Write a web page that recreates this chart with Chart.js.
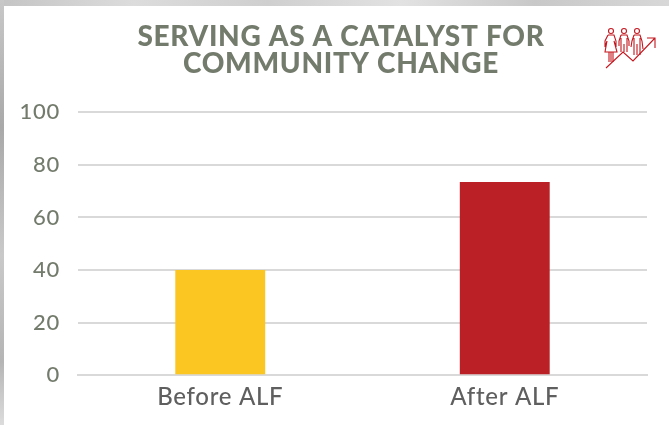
<!DOCTYPE html>
<html><head><meta charset="utf-8">
<style>
html,body{margin:0;padding:0;width:669px;height:425px;overflow:hidden;background:#fff}
#bgTop{position:absolute;left:0;top:0;width:669px;height:6px;background:linear-gradient(90deg,#c4c4c4,#dcdcdc 20%,#cfcfcf 40%,#e2e2e2 60%,#c8c8c8 80%,#d8d8d8)}
#bgLeft{position:absolute;left:0;top:0;width:4px;height:425px;background:linear-gradient(180deg,#c8c8c8,#a9a9a9 30%,#c9c9c9 60%,#b5b5b5 85%,#dcdcdc)}
#wrap{position:absolute;left:0;top:0;width:669px;height:425px}
#icon{position:absolute;left:600px;top:24px;width:60px;height:48px}
</style></head><body>
<div id="bgTop"></div><div id="bgLeft"></div>
<div id="wrap"><canvas id="c" width="669" height="425"></canvas></div>
<svg id="icon" viewBox="0 0 60 48" fill="none" stroke="#c4161f" stroke-width="1.100">
<circle cx="11" cy="7" r="2.500"/><circle cx="24" cy="7" r="2.500"/><circle cx="37" cy="7" r="2.500"/>
<path d="M8 11h6l2 6 0 6-2-6M8 11l-3 6 0 6 2-6M7 17l-2 11h12l-3-11M9 28v10M11 28v10M13 28v10"/>
<path d="M21 11h6l2 6v5M21 11l-2 6v5M21 14v14M27 14v14M24 20v8"/>
<path d="M34 11h6l2 6 1 8M34 11l-2 6-1 6M34 14v17M40 14v17M37 20v11"/>
<path d="M6 44L23 28l10 9 22-23M47 14h8v10"/>
</svg>
<script src="https://cdn.jsdelivr.net/npm/chart.js@4"></script>
<script>
const categories=["Before ALF","After ALF"];
const values=[40,73.5];
const barColors=["#fbc522","#bb2026"];
const yTicks=[0,20,40,60,80,100];
const titleLines=["SERVING AS A CATALYST FOR","COMMUNITY CHANGE"];
const helper={id:'helper',
 afterLayout(ch){ch.titleBlock.left+=17.5;ch.titleBlock.right+=17.5;},
 beforeDraw(ch){ch.ctx.letterSpacing='0.7px';}};
new Chart(document.getElementById('c'),{
 type:'bar',
 data:{labels:categories,datasets:[{data:values,backgroundColor:barColors,barPercentage:0.316,categoryPercentage:1}]},
 options:{
  responsive:false,animation:false,
  layout:{padding:{left:0,right:22,top:0,bottom:13}},
  plugins:{
   legend:{display:false},tooltip:{enabled:false},
   title:{display:true,text:titleLines,color:'#737b6c',align:'center',
    font:{family:'Lato',size:28,weight:'900',lineHeight:0.97},padding:{top:23,bottom:35}}
  },
  scales:{
   x:{grid:{display:false},border:{color:'#d9d9d9',width:2},
      ticks:{color:'#5f5f5f',font:{family:'Lato',size:24,weight:'500'},padding:0,maxRotation:0}},
   y:{min:0,max:100,afterBuildTicks(a){a.ticks=yTicks.map(v=>({value:v}));},
      afterFit(a){a.width=78;},
      grid:{color:'#d9d9d9',lineWidth:2,drawTicks:false},border:{display:false},
      ticks:{color:'#737b6c',font:{family:'Lato',size:22,weight:'500'},padding:18}}
  }
 },plugins:[helper]
});
</script></body></html>
